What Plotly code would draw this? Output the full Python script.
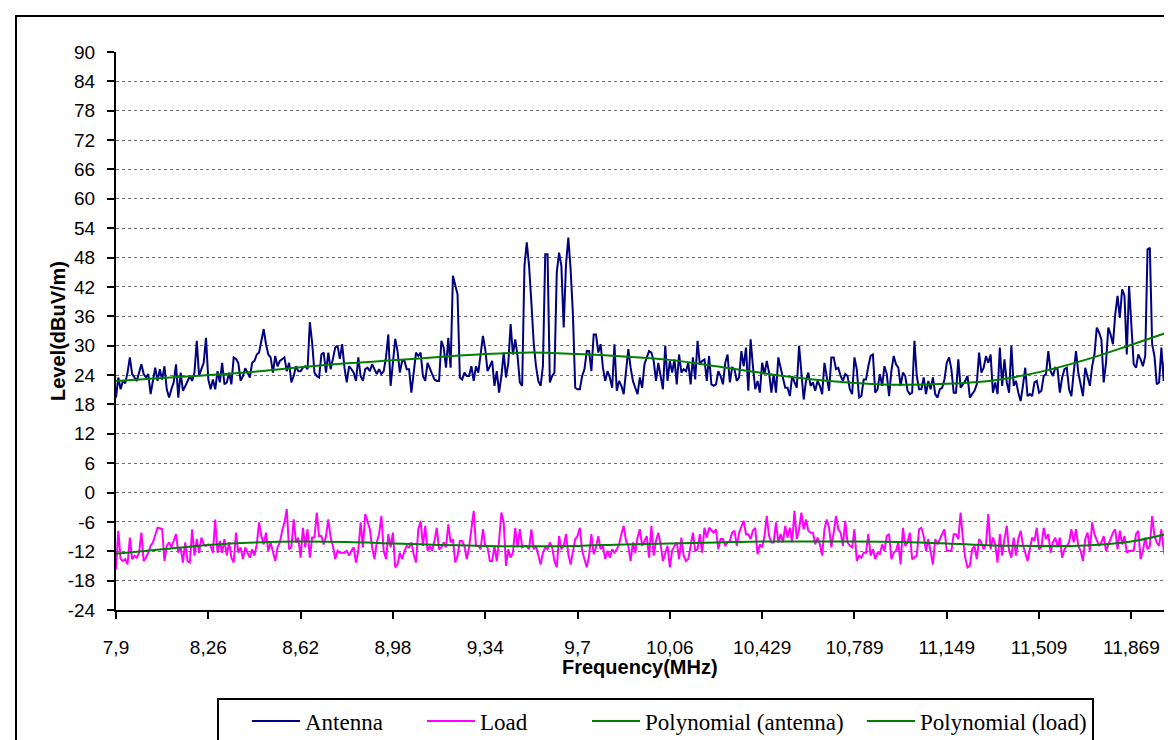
import plotly.graph_objects as go

# ---------------- data ----------------
freq_tick_labels = ["7,9", "8,26", "8,62", "8,98", "9,34", "9,7", "10,06",
                    "10,429", "10,789", "11,149", "11,509", "11,869"]
points_per_label = 40          # one frequency label every 40 samples

level_tick_labels = ["-24", "-18", "-12", "-6", "0", "6", "12", "18", "24", "30",
                     "36", "42", "48", "54", "60", "66", "72", "78", "84", "90"]

antenna = [
    19.4, 23.5, 21.1, 22.8, 22.3, 24.5, 27.6, 24.2, 23.5, 22.8,
    24.5, 26.2, 24.2, 23.5, 24.2, 20.1, 22.8, 25.5, 22.8, 25.2,
    23.1, 25.8, 21.1, 19.4, 21.1, 22.5, 26.2, 19.4, 24.5, 20.8,
    21.7, 22.8, 23.8, 22.8, 24.5, 31.0, 23.8, 25.2, 26.5, 31.6,
    23.1, 21.1, 23.1, 21.1, 24.8, 22.5, 26.5, 22.1, 22.5, 24.5,
    22.1, 27.6, 27.3, 26.5, 22.8, 23.8, 25.4, 24.5, 23.5, 26.5,
    26.9, 28.2, 28.6, 31.0, 33.4, 30.3, 28.2, 27.6, 24.5, 27.9,
    25.8, 26.9, 27.3, 27.6, 24.8, 26.5, 22.5, 23.8, 25.8, 24.8,
    24.8, 25.5, 25.8, 25.2, 34.8, 30.6, 24.5, 23.8, 23.5, 28.2,
    28.6, 24.5, 28.6, 25.2, 27.3, 29.6, 30.0, 27.3, 30.3, 25.5,
    22.5, 25.8, 25.2, 24.5, 22.8, 27.6, 23.8, 22.8, 25.2,
    25.5, 24.8, 26.2, 25.2, 24.2, 25.2, 24.2, 24.8, 27.6, 32.3,
    21.8, 26.5, 31.4, 28.9, 24.5, 26.9, 26.9, 25.2, 25.2, 20.4,
    25.2, 28.6, 27.9, 28.6, 23.8, 22.8, 26.5, 25.5, 24.2, 23.1,
    22.8, 22.8, 31.0, 29.6, 25.5, 31.6, 25.5, 44.3, 42.2, 40.5,
    23.5, 23.1, 24.5, 23.8, 23.8, 25.8, 22.8, 25.8, 24.5, 28.9,
    32.0, 29.3, 24.8, 25.8, 26.9, 21.8, 24.8, 20.4, 23.8, 28.6,
    23.5, 26.5, 34.4, 28.2, 31.3, 27.9, 22.5, 21.8, 46.3, 51.1,
    46.3, 38.8, 30.6, 25.8, 22.8, 21.8, 25.8, 48.7, 48.7, 22.5,
    23.8, 24.5, 45.0, 49.0, 46.3, 33.7, 46.6, 52.1, 45.6, 36.4,
    21.4, 21.1, 21.1, 23.8, 25.2, 28.9, 28.9, 24.8, 32.3, 32.3,
    28.6, 30.3, 25.5, 22.8, 24.8, 23.5, 21.4, 30.3, 20.8, 22.8,
    21.8, 20.1, 25.2, 29.3, 25.5, 22.8, 21.4,
    20.1, 23.5, 21.4, 26.2, 27.6, 28.9, 28.6, 26.9, 22.8, 26.5,
    23.8, 21.1, 30.0, 22.8, 26.9, 24.5, 27.2, 22.1, 28.2, 24.5,
    25.2, 24.8, 26.5, 22.1, 27.6, 23.1, 31.0, 26.2, 26.9, 27.2,
    22.8, 27.9, 22.1, 21.8, 22.1, 24.8, 23.8, 22.1, 26.5, 28.2,
    22.5, 25.5, 25.2, 22.8, 23.5, 28.9, 25.8, 29.6, 20.8, 31.3,
    25.8, 21.1, 22.8, 20.4, 26.5, 24.2, 26.9, 24.5, 20.4, 24.2,
    20.4, 27.6, 25.5, 23.1, 21.4, 21.4, 19.7, 23.8, 22.5, 21.4,
    30.0, 24.5, 19.0, 22.8, 24.5, 21.8, 22.5, 20.8, 22.8, 21.8,
    20.1, 26.5, 23.8, 20.8, 27.6, 27.6, 25.2, 25.5, 23.8, 22.8,
    24.2, 23.8, 21.1, 20.1, 27.6, 25.2, 19.4, 19.7, 23.1, 23.1,
    25.8, 27.9, 28.2, 20.4, 21.1, 24.2, 21.8, 25.8, 24.2, 19.7,
    24.8, 27.9, 26.2, 25.5, 21.8, 24.5, 23.8,
    20.8, 20.1, 20.4, 31.0, 23.8, 21.1, 21.1, 23.5, 20.1, 22.8,
    21.1, 23.5, 20.1, 19.4, 21.1, 21.4, 23.1, 26.5, 27.6, 25.2, 20.4,
    20.4, 27.2, 21.4, 22.1, 22.8, 23.8, 19.4, 20.1, 20.8, 22.1,
    28.6, 24.5, 25.5, 27.9, 26.5, 28.2, 20.4, 22.5, 20.1, 29.6,
    21.8, 27.2, 22.5, 20.4, 30.0, 21.8, 22.8, 20.4, 18.7, 21.8,
    25.5, 19.7, 20.1, 19.7, 22.5, 22.8, 20.4, 20.8, 23.8, 24.2,
    28.9, 24.8, 23.8, 25.5, 25.2, 20.4, 23.5, 25.2, 25.5, 21.1,
    19.7, 24.5, 28.9, 24.5, 21.8, 19.7, 25.5, 23.5, 21.8, 25.8,
    28.2, 33.7, 32.7, 31.3, 22.5, 26.5, 33.7, 32.3, 30.3, 36.4,
    40.2, 35.7, 41.5, 40.2, 28.2, 42.2, 33.7, 26.2, 25.5, 28.2,
    27.2, 25.8, 27.9, 49.7, 50.0, 30.3, 27.9, 22.1, 22.5, 29.6,
    22.8, 30.6,
]

load = [
    -15.7, -7.8, -13.6, -14.0, -13.6, -14.7, -9.2, -13.6, -12.9, -13.3,
    -12.3, -8.2, -14.0, -13.3, -12.3, -10.9, -10.2, -8.9, -7.2,
    -7.3, -7.5, -14.0, -10.9, -10.2, -11.2, -9.9, -8.5, -12.3, -11.2,
    -14.3, -10.2, -14.0, -14.3, -7.5, -12.9, -9.5, -12.3, -9.2, -10.6,
    -10.9, -10.6, -10.9, -12.3, -5.5, -12.3, -9.9, -12.3, -9.5,
    -12.9, -10.2, -13.3, -14.3, -8.2, -12.3, -11.2, -13.6, -11.2, -12.3,
    -13.3, -11.6, -12.9, -10.6, -6.1, -8.9, -10.6, -8.2, -11.9, -10.2,
    -12.3, -14.0, -11.2, -10.2, -7.8, -6.1, -3.4, -11.6, -11.2, -5.5,
    -10.2, -9.2, -13.3, -7.2, -11.2, -7.5, -13.3, -9.2, -9.2,
    -4.1, -8.9, -8.9, -10.6, -8.9, -5.5, -9.2, -10.9, -13.6, -11.9,
    -12.3, -12.3, -12.3, -11.9, -12.9, -11.9, -11.2, -14.3, -11.9, -6.1,
    -11.2, -4.4, -5.8, -7.5, -11.2, -13.6, -10.2, -8.5, -4.8, -11.9,
    -13.6, -8.5, -11.2, -8.2, -15.3, -14.7, -12.3, -13.6, -11.9,
    -10.9,
    -11.2, -10.2, -12.6, -14.3, -7.5, -5.8, -10.9, -6.8,
    -11.9, -10.9, -11.9, -9.9, -7.2, -11.6, -11.2, -10.2, -11.2, -6.5,
    -10.2, -9.5, -14.3, -12.9, -9.9, -9.9, -10.9, -13.6, -11.2, -7.8,
    -3.75, -10.9, -10.9, -11.6, -7.5, -10.9, -11.2, -14.0, -14.0,
    -10.9, -14.0, -9.9, -4.1, -6.1, -15.0, -11.6, -13.3, -12.3, -7.2,
    -11.2, -7.5, -11.2, -10.9, -10.9, -11.6, -7.5, -11.6, -10.9,
    -12.6, -14.7, -12.3, -11.2, -11.6, -10.2, -11.2, -14.0, -15.3, -8.9,
    -11.6, -10.9, -8.5, -12.6, -14.7, -11.9, -9.5, -8.9, -7.2, -11.9,
    -13.6, -15.3, -12.9, -8.5, -12.6, -11.2, -8.9, -11.6, -10.9,
    -13.6, -11.9, -13.3, -11.6, -12.3, -11.6, -10.6, -8.5, -6.8, -9.9,
    -10.9, -14.0, -10.2, -12.3, -9.2, -7.5, -10.9, -9.9, -8.9,
    -13.3, -6.8, -12.9, -9.9, -8.2, -10.6, -14.0, -12.6, -10.9, -15.3,
    -11.9, -10.9, -10.2, -13.6, -9.2, -12.9, -14.0, -13.6, -10.6, -8.2,
    -11.9, -11.6, -8.5, -12.3, -7.2, -9.2, -7.2, -7.8, -8.2,
    -7.5, -11.6, -9.5, -9.5, -10.9, -10.2, -9.9, -8.2, -7.8, -10.9,
    -8.2, -6.8, -5.8, -8.5, -8.5, -9.5, -7.8, -7.2, -12.6,
    -10.6, -11.2, -8.9, -4.8, -8.9, -10.2, -10.2, -6.1, -10.2, -8.5,
    -10.2, -6.8, -9.2, -7.2, -10.2, -3.75, -9.5, -7.5, -4.1, -7.5,
    -5.5,
    -7.8, -8.2, -8.2, -10.6, -9.2, -10.6, -12.9, -7.5, -5.5,
    -7.2, -11.2, -8.2, -4.8, -7.5, -8.2, -10.9, -5.8, -10.2, -10.9,
    -11.2, -7.5, -14.0, -12.9, -13.3, -12.3, -12.3, -8.5, -12.9,
    -11.6, -13.6, -12.3, -12.6, -10.6, -11.9, -8.9, -8.5, -13.6, -12.3,
    -11.9, -10.2, -14.7, -7.2, -10.9, -10.2, -8.2, -13.6, -13.3, -12.9,
    -7.5, -7.2, -8.9, -11.9, -9.5, -11.9, -14.7, -9.5, -10.6,
    -9.5, -8.5, -7.5, -11.9, -11.9, -11.9, -8.5, -8.5, -9.5, -4.1,
    -9.5, -13.3, -15.3, -15.0, -11.6, -10.9, -13.6, -9.5, -10.2, -11.6,
    -10.6, -4.4, -11.6, -9.2, -10.6, -14.3, -8.5, -12.9, -9.5,
    -6.8, -11.9, -13.3, -9.2, -12.9, -9.5, -7.8, -10.6, -12.3, -14.0,
    -11.6, -9.2, -9.9, -7.2, -11.6, -11.2, -7.2, -9.5, -8.5, -12.3,
    -10.2, -9.2, -11.2, -9.2, -13.3, -11.6, -10.9, -10.2, -7.5,
    -10.2, -7.5, -10.9, -11.9, -14.0, -9.5, -8.2, -11.9, -6.1, -8.5,
    -9.9, -10.9, -10.2, -8.9, -11.9, -10.6, -9.2, -8.2, -7.5, -11.6,
    -7.8, -10.6, -8.9, -12.3, -11.9, -11.9, -11.9, -8.5, -7.8,
    -13.6, -11.9, -9.2, -11.6, -10.9, -4.8, -8.9, -10.2, -10.9, -7.5,
    -11.6, -14.0,
]

# trendlines at these sample numbers
trend_sample = [0, 20, 40, 60, 80, 100, 120, 140, 160, 180, 200, 220,
                240, 260, 280, 300, 320, 340, 360, 380, 400, 420, 440, 455]
antenna_trend = [22.8, 23.4, 24.0, 24.7, 25.6, 26.4, 27.0, 27.7, 28.3, 28.6, 28.3, 27.8,
                 27.1, 25.8, 24.4, 23.2, 22.4, 22.0, 22.2, 22.9, 24.6, 27.1, 30.2, 32.6]
load_trend = [-12.5, -11.6, -10.7, -10.2, -10.0, -10.1, -10.4, -10.7, -10.9, -11.0, -10.9, -10.6,
              -10.4, -10.2, -10.0, -10.0, -10.0, -10.1, -10.4, -10.8, -10.9, -10.8, -10.0, -8.5]

# ---------------- figure ----------------
W, H = 1172, 740
L, R, T, B = 108, 14, 44, 138
PW, PH = W - L - R, H - T - B


def px_x(px):
    return (px - L) / PW


def px_y(py):
    return (H - B - py) / PH


NAVY, MAGENTA, GREEN = "#000080", "#FF00FF", "#008000"
SERIF = "Liberation Serif, Times New Roman, serif"
SANS = "Liberation Sans, Arial, sans-serif"

fig = go.Figure()
fig.add_trace(go.Scatter(y=antenna, mode="lines", name="Antenna", legend="legend",
                         line=dict(color=NAVY, width=2)))
fig.add_trace(go.Scatter(y=load, mode="lines", name="Load", legend="legend2",
                         line=dict(color=MAGENTA, width=2)))
fig.add_trace(go.Scatter(x=trend_sample, y=antenna_trend, mode="lines",
                         name="Polynomial (antenna)", legend="legend3",
                         line=dict(color=GREEN, width=2, shape="spline")))
fig.add_trace(go.Scatter(x=trend_sample, y=load_trend, mode="lines",
                         name="Polynomial (load)", legend="legend4",
                         line=dict(color=GREEN, width=2, shape="spline")))

x_tickvals = [i * points_per_label for i in range(len(freq_tick_labels))]
y_tickvals = [float(s) for s in level_tick_labels]


def legend_at(line_start_px):
    return dict(orientation="h", x=px_x(line_start_px - 6), xanchor="left",
                y=px_y(713), yanchor="middle",
                font=dict(family=SERIF, size=23, color="black"),
                bgcolor="rgba(0,0,0,0)", borderwidth=0, itemwidth=48)


fig.update_layout(
    width=W, height=H,
    margin=dict(l=L, r=R, t=T, b=B, autoexpand=False),
    paper_bgcolor="white", plot_bgcolor="white",
    font=dict(family=SANS, size=19, color="black"),
    showlegend=True,
    legend=legend_at(245),
    legend2=legend_at(420),
    legend3=legend_at(585),
    legend4=legend_at(860),
    xaxis=dict(range=[0, 455], tickmode="array", tickvals=x_tickvals,
               ticktext=freq_tick_labels, showgrid=False, zeroline=False,
               showline=True, linecolor="black", linewidth=2,
               ticks="outside", ticklen=7, tickwidth=1.5, tickcolor="black",
               ticklabelstandoff=12,
               tickfont=dict(family=SANS, size=19)),
    yaxis=dict(range=[-24, 90], tickmode="array", tickvals=y_tickvals,
               ticktext=level_tick_labels, showgrid=True, gridcolor="#707070",
               griddash="dot", gridwidth=1, zeroline=False,
               showline=True, linecolor="black", linewidth=2,
               ticks="outside", ticklen=7, tickwidth=1.5, tickcolor="black",
               ticklabelstandoff=8,
               tickfont=dict(family=SANS, size=19)),
)

fig.add_annotation(text="<b>Frequency(MHz)</b>", xref="paper", yref="paper",
                   x=px_x(632), y=px_y(672), showarrow=False,
                   font=dict(family=SANS, size=20, color="black"))
fig.add_annotation(text="<b>Level(dBuV/m)</b>", xref="paper", yref="paper",
                   x=px_x(37), y=px_y(323), showarrow=False, textangle=-90,
                   font=dict(family=SANS, size=20, color="black"))

# legend frame
fig.add_shape(type="rect", xref="paper", yref="paper",
              x0=px_x(210), x1=px_x(1085), y0=px_y(734), y1=px_y(691),
              line=dict(color="black", width=2), fillcolor="rgba(0,0,0,0)")
# outer chart-area border
fig.add_shape(type="rect", xref="paper", yref="paper",
              x0=px_x(8), x1=px_x(1164), y0=px_y(738), y1=px_y(8),
              line=dict(color="black", width=2), fillcolor="rgba(0,0,0,0)")

fig.write_html("out.html")
